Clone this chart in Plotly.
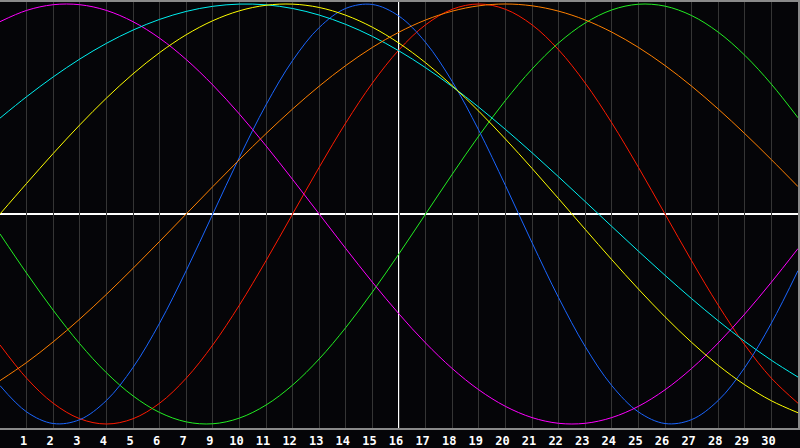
import plotly.graph_objects as go

days = list(range(0, 31))

red = [-0.6235, -0.7818, -0.9010, -0.9749, -1.0, -0.9749, -0.9010, -0.7818, -0.6235, -0.4339,
       -0.2225, 0.0, 0.2225, 0.4339, 0.6235, 0.7818, 0.9010, 0.9749, 1.0, 0.9749,
       0.9010, 0.7818, 0.6235, 0.4339, 0.2225, 0.0, -0.2225, -0.4339, -0.6235, -0.7818, -0.9010]
green = [-0.0951, -0.2817, -0.4582, -0.6182, -0.7557, -0.8660, -0.9450, -0.9898, -0.9989, -0.9718,
         -0.9096, -0.8146, -0.6901, -0.5406, -0.3717, -0.1893, 0.0, 0.1893, 0.3717, 0.5406,
         0.6901, 0.8146, 0.9096, 0.9718, 0.9989, 0.9898, 0.9450, 0.8660, 0.7557, 0.6182, 0.4582]
blue = [-0.8170, -0.9423, -0.9977, -0.9791, -0.8880, -0.7308, -0.5196, -0.2698, 0.0, 0.2698,
        0.5196, 0.7308, 0.8880, 0.9791, 0.9977, 0.9423, 0.8170, 0.6310, 0.3984, 0.1362,
        -0.1362, -0.3984, -0.6310, -0.8170, -0.9423, -0.9977, -0.9791, -0.8880, -0.7308, -0.5196, -0.2698]
magenta = [0.9158, 0.9694, 0.9966, 0.9966, 0.9694, 0.9158, 0.8372, 0.7357, 0.6142, 0.4759,
           0.3247, 0.1646, 0.0, -0.1646, -0.3247, -0.4759, -0.6142, -0.7357, -0.8372, -0.9158,
           -0.9694, -0.9966, -0.9966, -0.9694, -0.9158, -0.8372, -0.7357, -0.6142, -0.4759, -0.3247, -0.1646]
cyan = [0.4566, 0.5586, 0.6528, 0.7380, 0.8126, 0.8758, 0.9267, 0.9647, 0.9890, 0.9996,
        0.9961, 0.9786, 0.9473, 0.9028, 0.8457, 0.7766, 0.6966, 0.6069, 0.5085, 0.4030,
        0.2920, 0.1769, 0.0593, -0.0593, -0.1769, -0.2920, -0.4030, -0.5085, -0.6069, -0.6966, -0.7766]
yellow = [0.0, 0.1456, 0.2881, 0.4244, 0.5517, 0.6673, 0.7685, 0.8536, 0.9204, 0.9675,
          0.9940, 0.9993, 0.9834, 0.9464, 0.8894, 0.8135, 0.7203, 0.6112, 0.4894, 0.3572,
          0.2175, 0.0730, -0.0730, -0.2175, -0.3572, -0.4894, -0.6112, -0.7203, -0.8135, -0.8894, -0.9464]
orange = [-0.7934, -0.7071, -0.6088, -0.5, -0.3827, -0.2588, -0.1305, 0.0, 0.1305, 0.2588,
          0.3827, 0.5, 0.6088, 0.7071, 0.7934, 0.8660, 0.9239, 0.9659, 0.9914, 1.0,
          0.9914, 0.9659, 0.9239, 0.8660, 0.7934, 0.7071, 0.6088, 0.5, 0.3827, 0.2588, 0.1305]

tick_positions = list(range(1, 30))
tick_labels = ["1", "2", "3", "4", "5", "6", "7", "9", "10", "11", "12", "13", "14", "15", "16",
               "17", "18", "19", "20", "21", "22", "23", "24", "25", "26", "27", "28", "29", "30"]
today_position = 15

series = [
    ("red", red, "#ff1a00"),
    ("green", green, "#22ee22"),
    ("blue", blue, "#1a66ff"),
    ("magenta", magenta, "#ff00ff"),
    ("cyan", cyan, "#00f0f0"),
    ("yellow", yellow, "#ffff00"),
    ("orange", orange, "#ff8000"),
]

fig = go.Figure()
for name, vals, col in series:
    fig.add_trace(go.Scatter(x=days, y=vals, mode="lines", name=name,
                             line=dict(color=col, width=1, shape="spline", smoothing=1.0),
                             hoverinfo="skip"))

fig.add_shape(type="line", xref="x", yref="paper", x0=today_position, x1=today_position,
              y0=0, y1=1, line=dict(color="white", width=2), layer="below")
fig.add_shape(type="line", xref="paper", yref="y", x0=0, x1=1, y0=0, y1=0,
              line=dict(color="white", width=2), layer="below")

fig.update_layout(
    width=800, height=448,
    margin=dict(l=0, r=0, t=0, b=20),
    paper_bgcolor="#050508",
    plot_bgcolor="#050508",
    showlegend=False,
    xaxis=dict(range=[0, 30], tickvals=tick_positions, ticktext=tick_labels,
               showgrid=True, gridcolor="#353535", gridwidth=1, zeroline=False,
               showline=True, linecolor="#8a8a8a", linewidth=2, mirror=True,
               ticks="", ticklabelshift=-3, ticklabelstandoff=1,
               tickfont=dict(family="DejaVu Sans Mono", size=12, color="white", weight="bold")),
    yaxis=dict(range=[-1.019, 1.0095], showgrid=False, zeroline=False,
               showticklabels=False, showline=True, linecolor="#8a8a8a", linewidth=2, mirror=True,
               ticks=""),
)

fig.write_html("out.html",
               config={"displayModeBar": False, "staticPlot": True},
               post_script="document.body.style.margin='0';document.body.style.padding='0';"
                           "document.body.style.background='#050508';")
